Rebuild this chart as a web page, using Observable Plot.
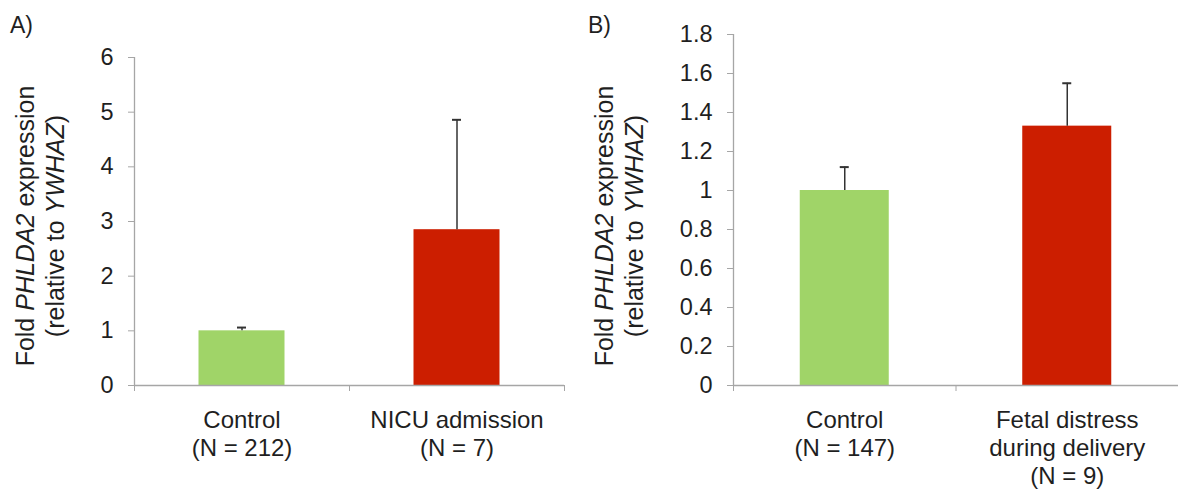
<!DOCTYPE html>
<html>
<head>
<meta charset="utf-8">
<script src="https://cdn.jsdelivr.net/npm/d3@7"></script>
<script src="https://cdn.jsdelivr.net/npm/@observablehq/plot@0.6"></script>
<style>
  body { margin: 0; background: #fff; }
  #wrap { position: relative; width: 1178px; height: 492px; overflow: hidden; background: #fff; }
  #wrap svg { position: absolute; top: 0; }
</style>
</head>
<body>
<div id="wrap"></div>
<script>
// ---- Data ----
const categoriesA = ["Control\n(N = 212)", "NICU admission\n(N = 7)"];
const meansA = [1.0, 2.85];
const errorsA = [0.06, 2.01];
const yTicksA = [0, 1, 2, 3, 4, 5, 6];

const categoriesB = ["Control\n(N = 147)", "Fetal distress\nduring delivery\n(N = 9)"];
const meansB = [1.0, 1.33];
const errorsB = [0.12, 0.22];
const yTicksB = [0, 0.2, 0.4, 0.6, 0.8, 1, 1.2, 1.4, 1.6, 1.8];

const barColors = ["#a0d468", "#cc1e00"];
const panelLabels = ["A)", "B)"];
const yTitleLine1 = ["Fold ", "PHLDA2", " expression"];
const yTitleLine2 = ["(relative to ", "YWHAZ", ")"];

// ---- Style ----
const AXIS = "#a6a6a6";
const INK = "#1f1f1f";
const FONT = "'Liberation Sans', Arial, Helvetica, sans-serif";

function panel({cats, means, errs, ticks, left, width, marginLeft, marginRight, marginTop, marginBottom, letter, letterX, titleX, titleY}) {
  const data = cats.map((c, i) => ({i, cat: c, mean: means[i], hi: means[i] + errs[i], color: barColors[i]}));
  const plot = Plot.plot({
    width, height: 492,
    marginLeft, marginRight, marginTop, marginBottom,
    style: {fontFamily: FONT, color: INK, background: "transparent", overflow: "visible"},
    x: {domain: [0, cats.length], axis: null},
    y: {domain: [0, ticks[ticks.length - 1]], axis: null},
    marks: [
      Plot.rectY(data, {x1: d => d.i + 0.3, x2: d => d.i + 0.7, y: "mean", fill: "color"}),
      Plot.ruleX(data, {x: d => d.i + 0.5, y1: "mean", y2: "hi", stroke: "#333", strokeWidth: 1.5}),
      Plot.ruleY(data, {x1: d => d.i + 0.5, x2: d => d.i + 0.5, y: "hi", insetLeft: -4.5, insetRight: -4.5, stroke: "#333", strokeWidth: 2}),
      Plot.ruleX([0], {stroke: AXIS, strokeWidth: 1.3}),
      Plot.ruleY([0], {stroke: AXIS, strokeWidth: 1.3}),
      Plot.axisY({ticks, tickSize: 6, tickPadding: 15, tickFormat: d3.format("~g"), fontSize: 23.5, stroke: AXIS, fill: INK, label: null}),
      Plot.axisX({ticks: d3.range(cats.length + 1), tickSize: 6, tickFormat: () => "", stroke: AXIS, label: null}),
      Plot.text(data, {x: d => d.i + 0.5, text: "cat", frameAnchor: "bottom", lineAnchor: "top", dy: 23, lineHeight: 1.16, fontSize: 24, fill: INK})
    ]
  });
  const svg = d3.select(plot);
  svg.style("left", left + "px");
  const t = svg.append("text")
    .attr("transform", `translate(${titleX},${titleY}) rotate(-90)`)
    .attr("text-anchor", "middle")
    .attr("fill", INK)
    .style("font-size", "25px")
    .style("font-family", FONT);
  const l1 = t.append("tspan").attr("x", 0).attr("dy", 0);
  yTitleLine1.forEach((s, k) => (k === 1 ? l1.append("tspan").style("font-style", "italic") : l1.append("tspan")).text(s));
  const l2 = t.append("tspan").attr("x", 0).attr("dy", 30);
  yTitleLine2.forEach((s, k) => (k === 1 ? l2.append("tspan").style("font-style", "italic") : l2.append("tspan")).text(s));
  svg.append("text")
    .attr("x", letterX).attr("y", 33)
    .attr("text-anchor", "start")
    .attr("fill", INK)
    .style("font-size", "23px")
    .style("font-family", FONT)
    .text(letter);
  return plot;
}

const wrap = document.getElementById("wrap");
wrap.appendChild(panel({
  cats: categoriesA, means: meansA, errs: errorsA, ticks: yTicksA,
  left: 0, width: 580, marginLeft: 134, marginRight: 16, marginTop: 57, marginBottom: 107,
  letter: panelLabels[0], letterX: 10, titleX: 34, titleY: 226
}));
wrap.appendChild(panel({
  cats: categoriesB, means: meansB, errs: errorsB, ticks: yTicksB,
  left: 580, width: 598, marginLeft: 153, marginRight: 0, marginTop: 34, marginBottom: 107,
  letter: panelLabels[1], letterX: 8, titleX: 33, titleY: 226
}));
</script>
</body>
</html>
